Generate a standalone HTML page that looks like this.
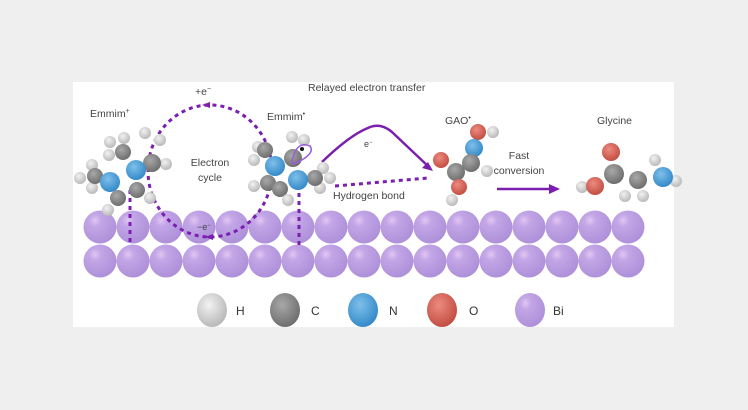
<!DOCTYPE html>
<html><head><style>
html,body{margin:0;padding:0;background:#efefef;}
svg{display:block;font-family:"Liberation Sans",sans-serif;}
</style></head><body>
<svg width="748" height="410" viewBox="0 0 748 410" xmlns="http://www.w3.org/2000/svg">
<defs>
<radialGradient id="bi" cx="0.35" cy="0.3" r="0.75"><stop offset="0" stop-color="#e2c6f2"/><stop offset="0.25" stop-color="#c2a6e6"/><stop offset="1" stop-color="#ac8fd8"/></radialGradient>
<radialGradient id="h" cx="0.4" cy="0.35" r="0.7"><stop offset="0" stop-color="#f2f2f2"/><stop offset="1" stop-color="#b5b5b5"/></radialGradient>
<radialGradient id="c" cx="0.4" cy="0.35" r="0.7"><stop offset="0" stop-color="#a8a8a8"/><stop offset="1" stop-color="#6a6a6a"/></radialGradient>
<radialGradient id="n" cx="0.4" cy="0.35" r="0.7"><stop offset="0" stop-color="#7ec0ea"/><stop offset="1" stop-color="#2f86c6"/></radialGradient>
<radialGradient id="o" cx="0.4" cy="0.35" r="0.7"><stop offset="0" stop-color="#ec8a80"/><stop offset="1" stop-color="#c04a3e"/></radialGradient>
<ellipse id="s" cx="0" cy="0" rx="16.5" ry="16.5" fill="url(#bi)"/>
</defs>
<rect x="73" y="82" width="601" height="245" fill="#fff"/>
<g transform="translate(-7,0)">
<use href="#s" x="107" y="227"/><use href="#s" x="140" y="227"/><use href="#s" x="173" y="227"/><use href="#s" x="206" y="227"/><use href="#s" x="239" y="227"/><use href="#s" x="272" y="227"/><use href="#s" x="305" y="227"/><use href="#s" x="338" y="227"/><use href="#s" x="371" y="227"/><use href="#s" x="404" y="227"/><use href="#s" x="437" y="227"/><use href="#s" x="470" y="227"/><use href="#s" x="503" y="227"/><use href="#s" x="536" y="227"/><use href="#s" x="569" y="227"/><use href="#s" x="602" y="227"/><use href="#s" x="635" y="227"/>
<use href="#s" x="107" y="261"/><use href="#s" x="140" y="261"/><use href="#s" x="173" y="261"/><use href="#s" x="206" y="261"/><use href="#s" x="239" y="261"/><use href="#s" x="272" y="261"/><use href="#s" x="305" y="261"/><use href="#s" x="338" y="261"/><use href="#s" x="371" y="261"/><use href="#s" x="404" y="261"/><use href="#s" x="437" y="261"/><use href="#s" x="470" y="261"/><use href="#s" x="503" y="261"/><use href="#s" x="536" y="261"/><use href="#s" x="569" y="261"/><use href="#s" x="602" y="261"/><use href="#s" x="635" y="261"/>
</g>
<g fill="none" stroke="#7a1fb0" stroke-width="3" stroke-dasharray="4,4">
<ellipse cx="210" cy="171" rx="62" ry="66"/>
<line x1="130" y1="190" x2="130" y2="245"/>
<line x1="299" y1="185" x2="299" y2="245"/>
<line x1="335" y1="186" x2="428" y2="178"/>
</g>
<path d="M202 105 l8 -3 l0 6z" fill="#7a1fb0"/>
<path d="M205 237 l8 -3 l0 6z" fill="#7a1fb0"/>
<path d="M322 162 Q350 135 368 128 Q380 122 392 132 L430 168" fill="none" stroke="#7a1fb0" stroke-width="2.5"/>
<path d="M433 171 l-11 -3 l6 -6z" fill="#7a1fb0"/>
<line x1="497" y1="189" x2="552" y2="189" stroke="#7a1fb0" stroke-width="2.5"/>
<path d="M560 189 l-11 -5 v10z" fill="#7a1fb0"/>
<g>
<circle cx="80" cy="178" r="6" fill="url(#h)"/><circle cx="92" cy="165" r="6" fill="url(#h)"/><circle cx="92" cy="188" r="6" fill="url(#h)"/>
<circle cx="95" cy="176" r="8" fill="url(#c)"/>
<circle cx="110" cy="142" r="6" fill="url(#h)"/><circle cx="124" cy="138" r="6" fill="url(#h)"/><circle cx="109" cy="155" r="6" fill="url(#h)"/>
<circle cx="123" cy="152" r="8" fill="url(#c)"/>
<circle cx="145" cy="133" r="6" fill="url(#h)"/><circle cx="160" cy="140" r="6" fill="url(#h)"/><circle cx="166" cy="164" r="6" fill="url(#h)"/>
<circle cx="152" cy="163" r="9" fill="url(#c)"/>
<circle cx="110" cy="182" r="10" fill="url(#n)"/>
<circle cx="136" cy="170" r="10" fill="url(#n)"/>
<circle cx="118" cy="198" r="8" fill="url(#c)"/><circle cx="108" cy="210" r="6" fill="url(#h)"/>
<circle cx="137" cy="190" r="8" fill="url(#c)"/><circle cx="150" cy="198" r="6" fill="url(#h)"/>
</g>
<g>
<circle cx="258" cy="147" r="6" fill="url(#h)"/><circle cx="254" cy="160" r="6" fill="url(#h)"/>
<circle cx="265" cy="150" r="8" fill="url(#c)"/>
<circle cx="292" cy="137" r="6" fill="url(#h)"/><circle cx="304" cy="140" r="6" fill="url(#h)"/>
<circle cx="293" cy="158" r="9" fill="url(#c)"/>
<circle cx="254" cy="186" r="6" fill="url(#h)"/><circle cx="268" cy="183" r="8" fill="url(#c)"/>
<circle cx="280" cy="189" r="8" fill="url(#c)"/><circle cx="288" cy="200" r="6" fill="url(#h)"/>
<circle cx="323" cy="168" r="6" fill="url(#h)"/><circle cx="330" cy="178" r="6" fill="url(#h)"/><circle cx="320" cy="188" r="6" fill="url(#h)"/>
<circle cx="315" cy="178" r="8" fill="url(#c)"/>
<circle cx="275" cy="166" r="10" fill="url(#n)"/>
<circle cx="298" cy="180" r="10" fill="url(#n)"/>
<path d="M292 162 Q296 140 310 146 Q316 154 294 164z" fill="none" stroke="#9a5ce0" stroke-width="1.5"/>
<circle cx="302" cy="149" r="2" fill="#111"/>
</g>
<g>
<circle cx="493" cy="132" r="6" fill="url(#h)"/><circle cx="478" cy="132" r="8" fill="url(#o)"/>
<circle cx="474" cy="148" r="9" fill="url(#n)"/>
<circle cx="487" cy="171" r="6" fill="url(#h)"/>
<circle cx="471" cy="163" r="9" fill="url(#c)"/>
<circle cx="441" cy="160" r="8" fill="url(#o)"/>
<circle cx="452" cy="200" r="6" fill="url(#h)"/>
<circle cx="456" cy="172" r="9" fill="url(#c)"/>
<circle cx="459" cy="187" r="8" fill="url(#o)"/>
</g>
<g>
<circle cx="582" cy="187" r="6" fill="url(#h)"/>
<circle cx="611" cy="152" r="9" fill="url(#o)"/>
<circle cx="614" cy="174" r="10" fill="url(#c)"/>
<circle cx="595" cy="186" r="9" fill="url(#o)"/>
<circle cx="655" cy="160" r="6" fill="url(#h)"/><circle cx="676" cy="181" r="6" fill="url(#h)"/>
<circle cx="625" cy="196" r="6" fill="url(#h)"/><circle cx="643" cy="196" r="6" fill="url(#h)"/>
<circle cx="638" cy="180" r="9" fill="url(#c)"/>
<circle cx="663" cy="177" r="10" fill="url(#n)"/>
</g>
<ellipse cx="212" cy="310" rx="15" ry="17" fill="url(#h)"/>
<ellipse cx="285" cy="310" rx="15" ry="17" fill="url(#c)"/>
<ellipse cx="363" cy="310" rx="15" ry="17" fill="url(#n)"/>
<ellipse cx="442" cy="310" rx="15" ry="17" fill="url(#o)"/>
<ellipse cx="530" cy="310" rx="15" ry="17" fill="url(#bi)"/>
<g font-size="12" fill="#333">
<text x="236" y="315">H</text><text x="311" y="315">C</text><text x="389" y="315">N</text><text x="469" y="315">O</text><text x="553" y="315">Bi</text>
</g>
<g font-size="10.5" fill="#444">
<text x="90" y="117">Emmim<tspan font-size="7" dy="-4">+</tspan></text>
<text x="267" y="120">Emmim<tspan font-size="7" dy="-4">•</tspan></text>
<text x="195" y="95">+e<tspan font-size="7" dy="-4">−</tspan></text>
<text x="210" y="166" text-anchor="middle">Electron</text>
<text x="210" y="181" text-anchor="middle">cycle</text>
<text x="197" y="230" font-size="9">−e<tspan font-size="6" dy="-3">−</tspan></text>
<text x="308" y="91">Relayed electron transfer</text>
<text x="364" y="147" font-size="9">e<tspan font-size="6" dy="-3">−</tspan></text>
<text x="333" y="199">Hydrogen bond</text>
<text x="445" y="124">GAO<tspan font-size="7" dy="-4">•</tspan></text>
<text x="519" y="159" text-anchor="middle">Fast</text>
<text x="519" y="174" text-anchor="middle">conversion</text>
<text x="597" y="124">Glycine</text>
</g>
</svg>
</body></html>
